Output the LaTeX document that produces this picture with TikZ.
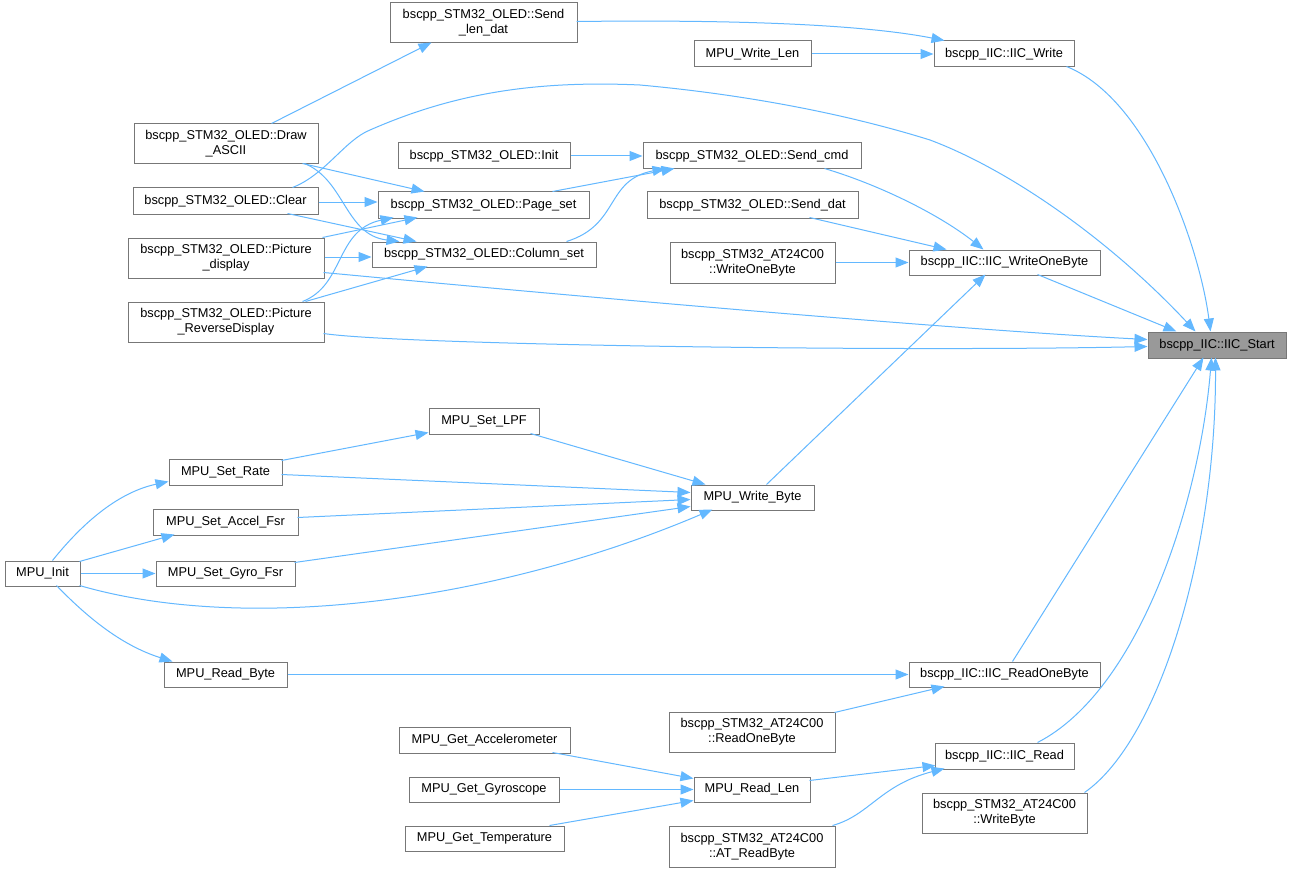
\documentclass[tikz,border=0pt]{standalone}
\usepackage{fontspec}
\setmainfont{Liberation Sans}
\usetikzlibrary{arrows.meta}
\definecolor{edgeblue}{HTML}{63B8FF}
\definecolor{boxgray}{HTML}{777777}
\definecolor{startfill}{HTML}{999999}
\begin{document}
\begin{tikzpicture}[x=1pt,y=-1pt,
  box/.style={draw=boxgray, fill=white, line width=1pt, inner sep=0pt, align=center,
    font=\fontsize{12.8}{15}\selectfont, text=black},
  cur/.style={box, fill=startfill},
  edge/.style={draw=edgeblue, line width=1pt, -{Triangle[length=13pt,width=10pt]}}]
\fill[white] (0,0) rectangle (1291,872);
\path[use as bounding box] (0,0) rectangle (1291,872);

% nodes
\node[box, minimum width=187pt, minimum height=40pt] (sld) at (483.5,23) {bscpp\_STM32\_OLED::Send\\\_len\_dat};
\node[box, minimum width=140pt, minimum height=26pt] (iw) at (1004,54) {bscpp\_IIC::IIC\_Write};
\node[box, minimum width=117pt, minimum height=26pt] (mwl) at (752.5,54) {MPU\_Write\_Len};
\node[box, minimum width=184pt, minimum height=40pt] (da) at (226,144) {bscpp\_STM32\_OLED::Draw\\\_ASCII};
\node[box, minimum width=172pt, minimum height=26pt] (oi) at (484,156) {bscpp\_STM32\_OLED::Init};
\node[box, minimum width=218pt, minimum height=26pt] (sc) at (752,156) {bscpp\_STM32\_OLED::Send\_cmd};
\node[box, minimum width=185pt, minimum height=26pt] (cl) at (225.5,201) {bscpp\_STM32\_OLED::Clear};
\node[box, minimum width=211pt, minimum height=26pt] (ps) at (483.5,205) {bscpp\_STM32\_OLED::Page\_set};
\node[box, minimum width=211pt, minimum height=26pt] (sd) at (752.5,205) {bscpp\_STM32\_OLED::Send\_dat};
\node[box, minimum width=196pt, minimum height=40pt] (pd) at (226,258) {bscpp\_STM32\_OLED::Picture\\\_display};
\node[box, minimum width=224pt, minimum height=25pt] (cs) at (484,254.5) {bscpp\_STM32\_OLED::Column\_set};
\node[box, minimum width=165pt, minimum height=41pt] (awob) at (752.5,262.5) {bscpp\_STM32\_AT24C00\\::WriteOneByte};
\node[box, minimum width=191pt, minimum height=25pt] (iwob) at (1004.5,262.5) {bscpp\_IIC::IIC\_WriteOneByte};
\node[box, minimum width=196pt, minimum height=40pt] (prd) at (226,322) {bscpp\_STM32\_OLED::Picture\\\_ReverseDisplay};
\node[cur, minimum width=138pt, minimum height=26pt] (is) at (1217,345) {bscpp\_IIC::IIC\_Start};
\node[box, minimum width=110pt, minimum height=26pt] (lpf) at (484,421) {MPU\_Set\_LPF};
\node[box, minimum width=113pt, minimum height=26pt] (sr) at (225.5,472) {MPU\_Set\_Rate};
\node[box, minimum width=123pt, minimum height=25pt] (wb) at (752.5,497.5) {MPU\_Write\_Byte};
\node[box, minimum width=145pt, minimum height=26pt] (saf) at (225.5,522) {MPU\_Set\_Accel\_Fsr};
\node[box, minimum width=139pt, minimum height=25pt] (sgf) at (225.5,573.5) {MPU\_Set\_Gyro\_Fsr};
\node[box, minimum width=75pt, minimum height=25pt] (mi) at (42.5,573.5) {MPU\_Init};
\node[box, minimum width=123pt, minimum height=25pt] (mrb) at (225.5,674.5) {MPU\_Read\_Byte};
\node[box, minimum width=191pt, minimum height=25pt] (irob) at (1004.5,674.5) {bscpp\_IIC::IIC\_ReadOneByte};
\node[box, minimum width=166pt, minimum height=40pt] (arob) at (752,732) {bscpp\_STM32\_AT24C00\\::ReadOneByte};
\node[box, minimum width=171pt, minimum height=26pt] (ga) at (484.5,740) {MPU\_Get\_Accelerometer};
\node[box, minimum width=139pt, minimum height=26pt] (ir) at (1004.5,756) {bscpp\_IIC::IIC\_Read};
\node[box, minimum width=150pt, minimum height=25pt] (gg) at (484,789.5) {MPU\_Get\_Gyroscope};
\node[box, minimum width=116pt, minimum height=25pt] (mrl) at (752,789.5) {MPU\_Read\_Len};
\node[box, minimum width=165pt, minimum height=40pt] (awb) at (1004.5,813) {bscpp\_STM32\_AT24C00\\::WriteByte};
\node[box, minimum width=159pt, minimum height=25pt] (gt) at (484.5,838.5) {MPU\_Get\_Temperature};
\node[box, minimum width=166pt, minimum height=41pt] (arb) at (752,846.5) {bscpp\_STM32\_AT24C00\\::AT\_ReadByte};

% edges
\draw[edge] ([shift={(187,19)}]sld.north west) .. controls (700,20) and (850,22) .. ([shift={(11,0)}]iw.north west);
\draw[edge] (mwl.east) -- (iw.west);
\draw[edge] ([shift={(133,26)}]iw.north west) .. controls (1150,100) and (1200,250) .. ([shift={(63,0)}]is.north west);
\draw[edge] ([shift={(138,0)}]da.north west) -- ([shift={(42,40)}]sld.north west);
\draw[edge] ([shift={(160,0)}]cl.north west) .. controls (325,175) and (345,140) .. (370,130)
  .. controls (450,95) and (530,80) .. (640,85)
  .. controls (750,95) and (850,115) .. (930,140)
  .. controls (1010,170) and (1110,240) .. ([shift={(48,0)}]is.north west);
\draw[edge] (oi.east) -- (sc.west);
\draw[edge] ([shift={(182,26)}]sc.north west) .. controls (880,185) and (940,215) .. ([shift={(75,0)}]iwob.north west);
\draw[edge] ([shift={(169,40)}]da.north west) -- ([shift={(47,0)}]ps.north west);
\draw[edge] ([shift={(171,40)}]da.north west) .. controls (345,180) and (345,235) .. ([shift={(28,0)}]cs.north west);
\draw[edge] ([yshift=-1pt]cl.east) -- ([yshift=-1pt]cl.east -| ps.west);
\draw[edge] ([shift={(155,26)}]cl.north west) -- ([shift={(45,0)}]cs.north west);
\draw[edge] ([shift={(175,0)}]ps.north west) -- ([shift={(32,26)}]sc.north west);
\draw[edge] ([shift={(195,0)}]cs.north west) .. controls (620,225) and (605,180) .. ([shift={(23,26)}]sc.north west);
\draw[edge] ([shift={(163,26)}]sd.north west) -- ([shift={(38,0)}]iwob.north west);
\draw[edge] ([shift={(195,0)}]pd.north west) -- ([shift={(40,26)}]ps.north west);
\draw[edge] ([yshift=1pt]pd.east) -- ([yshift=1pt]pd.east -| cs.west);
\draw[edge] ([shift={(196,35)}]pd.north west) .. controls (700,308) and (1000,332) .. ([shift={(0,8)}]is.north west);
\draw[edge] (awob.east) -- (iwob.west);
\draw[edge] ([shift={(129,25)}]iwob.north west) -- ([shift={(29,0)}]is.north west);
\draw[edge] ([shift={(175,0)}]prd.north west) .. controls (345,285) and (335,230) .. ([shift={(16,26)}]ps.north west);
\draw[edge] ([shift={(178,0)}]prd.north west) -- ([shift={(56,25)}]cs.north west);
\draw[edge] ([shift={(196,32)}]prd.north west) .. controls (400,345) and (900,352) .. ([shift={(0,15)}]is.north west);
\draw[edge] ([shift={(76,0)}]wb.north west) -- ([shift={(77,25)}]iwob.north west);
\draw[edge] ([shift={(102,26)}]lpf.north west) -- ([shift={(15,0)}]wb.north west);
\draw[edge] ([shift={(113,2)}]sr.north west) -- ([shift={(0,25)}]lpf.north west);
\draw[edge] ([shift={(113,16)}]sr.north west) -- ([shift={(0,8)}]wb.north west);
\draw[edge] ([shift={(145,9)}]saf.north west) -- ([shift={(0,15)}]wb.north west);
\draw[edge] ([shift={(139,2)}]sgf.north west) -- ([shift={(0,22)}]wb.north west);
\draw[edge] ([shift={(75,25)}]mi.north west) .. controls (250,635) and (500,600) .. ([shift={(22,25)}]wb.north west);
\draw[edge] ([shift={(48,0)}]mi.north west) .. controls (85,520) and (120,492) .. ([shift={(0,23)}]sr.north west);
\draw[edge] ([shift={(75,1)}]mi.north west) -- ([shift={(22,26)}]saf.north west);
\draw[edge] (mi.east) -- (sgf.west);
\draw[edge] ([shift={(52,25)}]mi.north west) .. controls (85,615) and (120,645) .. ([shift={(9,0)}]mrb.north west);
\draw[edge] (mrb.east) -- (irob.west);
\draw[edge] ([shift={(104,0)}]irob.north west) -- ([shift={(56,26)}]is.north west);
\draw[edge] ([shift={(166,1)}]arob.north west) -- ([shift={(36,25)}]irob.north west);
\draw[edge] ([shift={(103,0)}]ir.north west) .. controls (1140,690) and (1200,500) .. ([shift={(64,26)}]is.north west);
\draw[edge] ([shift={(163,0)}]awb.north west) .. controls (1160,740) and (1216,550) .. ([shift={(68,26)}]is.north west);
\draw[edge] ([shift={(154,26)}]ga.north west) -- ([shift={(0,2)}]mrl.north west);
\draw[edge] (gg.east) -- (mrl.west);
\draw[edge] ([shift={(145,0)}]gt.north west) -- ([shift={(0,24)}]mrl.north west);
\draw[edge] ([shift={(116,4)}]mrl.north west) -- ([shift={(1,23)}]ir.north west);
\draw[edge] ([shift={(164,0)}]arb.north west) .. controls (870,815) and (880,785) .. ([shift={(10,26)}]ir.north west);
\end{tikzpicture}
\end{document}
